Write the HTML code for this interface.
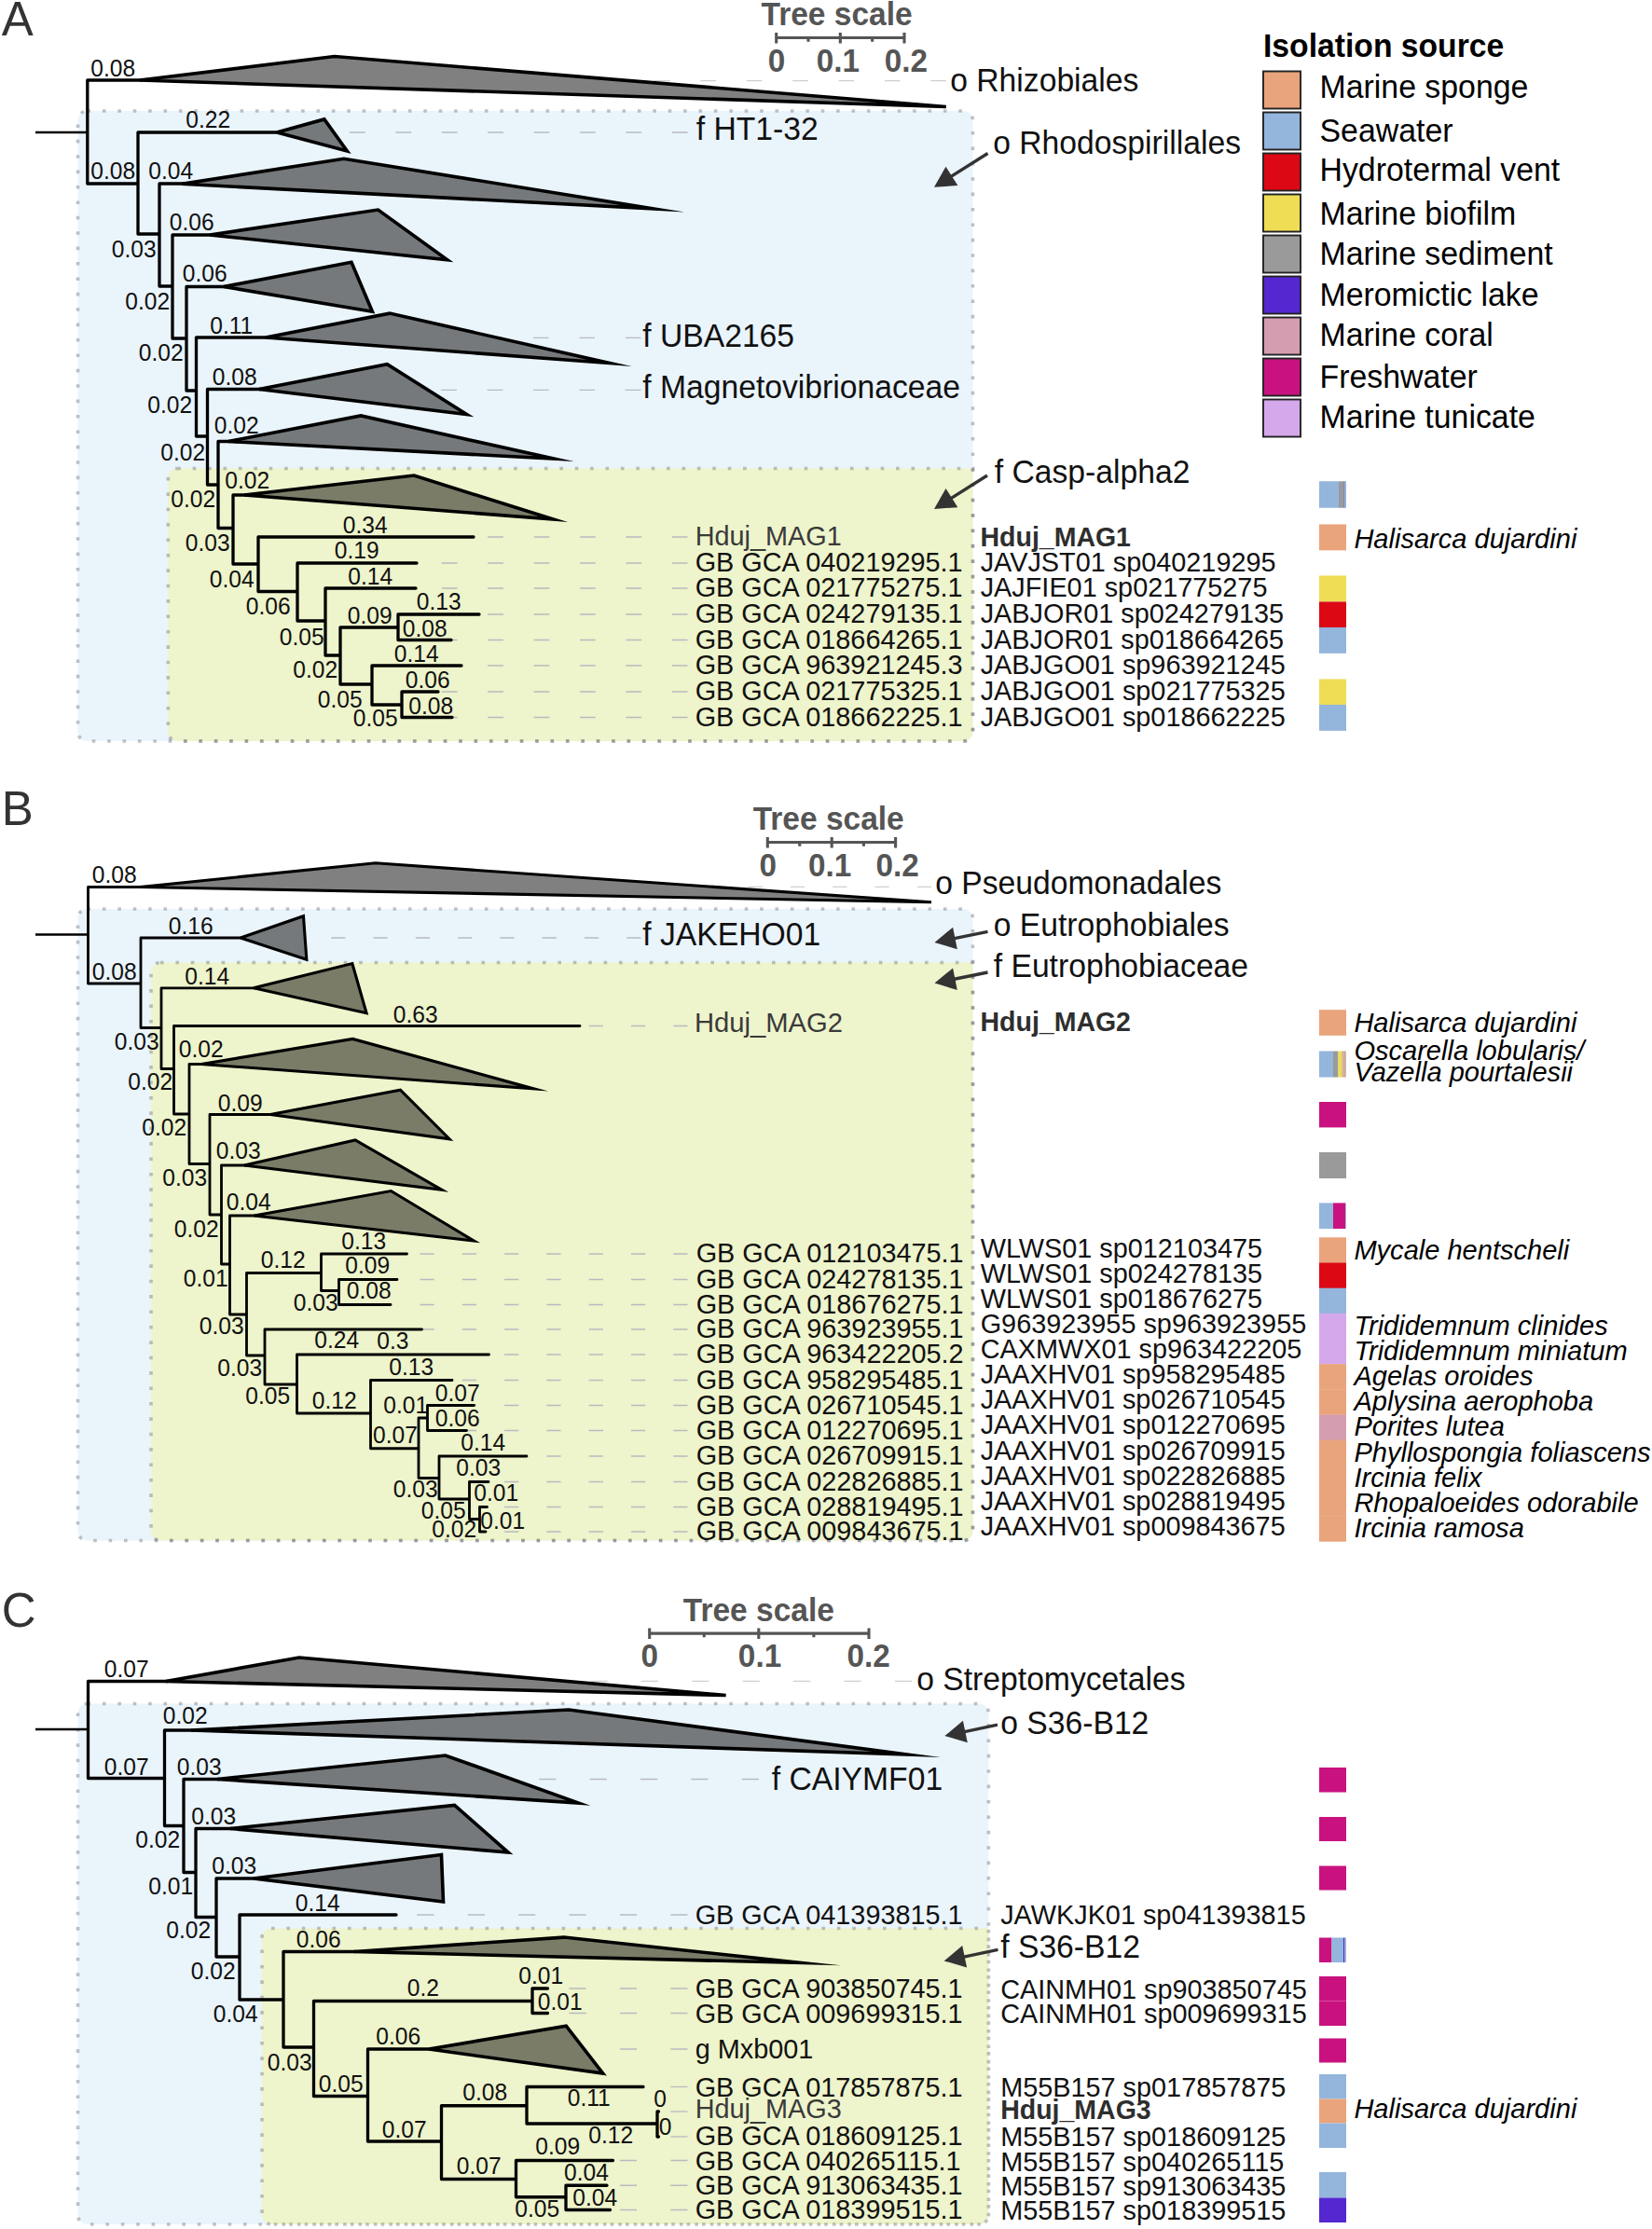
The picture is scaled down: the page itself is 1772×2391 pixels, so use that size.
<!DOCTYPE html>
<html><head><meta charset="utf-8"><title>Phylogenetic trees</title>
<style>html,body{margin:0;padding:0;background:#fff}svg{display:block}text{white-space:pre}</style>
</head><body>
<svg width="1772" height="2391" viewBox="0 0 1772 2391" font-family="'Liberation Sans', Arial, sans-serif">
<text transform="translate(1.7 37.5) scale(1 1.03)" font-size="51" fill="#333">A</text>
<path d="M93.5,119H1033.5A10,10 0 0 1 1043.5,129V785A10,10 0 0 1 1033.5,795H93.5A10,10 0 0 1 83.5,785V129A10,10 0 0 1 93.5,119Z" fill="#eaf4fb"/>
<path d="M190.3,502.5H1043.5V785A10,10 0 0 1 1033.5,795H190.3A10,10 0 0 1 180.3,785V512.5A10,10 0 0 1 190.3,502.5Z" fill="#eef4cb"/>
<path d="M93.5,119H1033.5A10,10 0 0 1 1043.5,129V785A10,10 0 0 1 1033.5,795H93.5A10,10 0 0 1 83.5,785V129A10,10 0 0 1 93.5,119Z" fill="none" stroke="#5c5c66" stroke-opacity="0.37" stroke-width="3.6" stroke-dasharray="3.6 12.8"/>
<path d="M190.3,502.5H1043.5V785A10,10 0 0 1 1033.5,795H190.3A10,10 0 0 1 180.3,785V512.5A10,10 0 0 1 190.3,502.5Z" fill="none" stroke="#5c5c66" stroke-opacity="0.37" stroke-width="3.6" stroke-dasharray="3.6 12.8"/>
<path d="M832.7,40.5H970M832.7,34.9V46.5M901.3,34.9V46.5M970,34.9V46.5M867.0,40.5V44.7M935.65,40.5V44.7" stroke="#555" stroke-width="3.1" fill="none"/>
<text transform="translate(816.6 27) scale(1 1.03)" font-size="33.5" fill="#555" font-weight="bold">Tree scale</text>
<text transform="translate(833 76.6) scale(1 1.03)" font-size="33.3" fill="#555" font-weight="bold" text-anchor="middle">0</text>
<text transform="translate(898.8 76.6) scale(1 1.03)" font-size="33.3" fill="#555" font-weight="bold" text-anchor="middle">0.1</text>
<text transform="translate(971.8 76.6) scale(1 1.03)" font-size="33.3" fill="#555" font-weight="bold" text-anchor="middle">0.2</text>
<path d="M1015,86.6H160" stroke="#cfcfcf" stroke-width="1.3" stroke-dasharray="16.7 32.7" fill="none"/>
<path d="M737.5,142H300" stroke="#b8bbc1" stroke-width="1.3" stroke-dasharray="16.7 32.7" fill="none"/>
<path d="M687.5,362.3H290" stroke="#b8bbc1" stroke-width="1.3" stroke-dasharray="16.7 32.7" fill="none"/>
<path d="M687.5,418.3H285" stroke="#b8bbc1" stroke-width="1.3" stroke-dasharray="16.7 32.7" fill="none"/>
<path d="M737.5,576H508" stroke="#b8bbc1" stroke-width="1.3" stroke-dasharray="16.7 32.7" fill="none"/>
<path d="M737.5,604H447" stroke="#b8bbc1" stroke-width="1.3" stroke-dasharray="16.7 32.7" fill="none"/>
<path d="M737.5,631H446" stroke="#b8bbc1" stroke-width="1.3" stroke-dasharray="16.7 32.7" fill="none"/>
<path d="M737.5,659H514" stroke="#b8bbc1" stroke-width="1.3" stroke-dasharray="16.7 32.7" fill="none"/>
<path d="M737.5,686.5H484" stroke="#b8bbc1" stroke-width="1.3" stroke-dasharray="16.7 32.7" fill="none"/>
<path d="M737.5,714H495" stroke="#b8bbc1" stroke-width="1.3" stroke-dasharray="16.7 32.7" fill="none"/>
<path d="M737.5,742H470" stroke="#b8bbc1" stroke-width="1.3" stroke-dasharray="16.7 32.7" fill="none"/>
<path d="M737.5,769.5H485" stroke="#b8bbc1" stroke-width="1.3" stroke-dasharray="16.7 32.7" fill="none"/>
<path d="M38,142H93" stroke="#000" stroke-width="2.7" fill="none"/>
<path d="M93.8,86V197M93.8,86H152M93.8,197H148M148,142V251M148,142H299M148,251H171M171,197V307M171,197H197M171,307H185M185,252V363M185,252H227M185,363H200M200,307.5V419M200,307.5H242M200,419H210.5M210.5,362V468M210.5,362H287M210.5,468H222.5M222.5,417.5V520M222.5,417.5H280M222.5,520H234M234,473.5V566.5M234,473.5H247M234,566.5H250M250,531V605M250,531H264M250,605H277M277,576V634.5M277,576H508M277,634.5H319M319,604V666M319,604H447M319,666H349M349,631V703M349,631H446M349,703H365M365,673V734M365,673H427M365,734H399M427,659V686.5M427,659H514M427,686.5H484M399,714V756M399,714H495M399,756H431M431,742V769.5M431,742H470M431,769.5H485" fill="none" stroke="#000" stroke-width="3.3" stroke-linecap="round" stroke-linejoin="round"/>
<path d="M150.00,86.00 L358.76,60.57 L1014.80,114.50 L150.00,86.00" fill="#808080" stroke="#000" stroke-width="3.5999999999999996" stroke-linejoin="miter" stroke-linecap="butt" stroke-miterlimit="4"/>
<path d="M297.00,142.00 L347.83,127.92 L372.31,162.05 L297.00,142.00" fill="#75797b" stroke="#000" stroke-width="3.5999999999999996" stroke-linejoin="miter" stroke-linecap="butt" stroke-miterlimit="60"/>
<path d="M195.00,197.30 L368.82,170.28 L701.05,223.91 L195.00,197.30" fill="#75797b" stroke="#000" stroke-width="3.5999999999999996" stroke-linejoin="miter" stroke-linecap="butt" stroke-miterlimit="60"/>
<path d="M225.00,252.00 L405.54,225.05 L479.85,278.82 L225.00,252.00" fill="#75797b" stroke="#000" stroke-width="3.5999999999999996" stroke-linejoin="miter" stroke-linecap="butt" stroke-miterlimit="60"/>
<path d="M240.00,307.50 L376.96,281.29 L399.41,334.26 L240.00,307.50" fill="#75797b" stroke="#000" stroke-width="3.5999999999999996" stroke-linejoin="miter" stroke-linecap="butt" stroke-miterlimit="60"/>
<path d="M285.00,362.00 L417.91,336.11 L653.63,389.43 L285.00,362.00" fill="#75797b" stroke="#000" stroke-width="3.5999999999999996" stroke-linejoin="miter" stroke-linecap="butt" stroke-miterlimit="60"/>
<path d="M278.00,417.50 L415.27,390.76 L500.58,444.55 L278.00,417.50" fill="#75797b" stroke="#000" stroke-width="3.5999999999999996" stroke-linejoin="miter" stroke-linecap="butt" stroke-miterlimit="60"/>
<path d="M245.00,473.50 L387.04,445.95 L594.28,492.08 L245.00,473.50" fill="#75797b" stroke="#000" stroke-width="3.5999999999999996" stroke-linejoin="miter" stroke-linecap="butt" stroke-miterlimit="60"/>
<path d="M262.00,531.00 L444.15,510.07 L593.47,557.08 L262.00,531.00" fill="#7a7c68" stroke="#000" stroke-width="3.5999999999999996" stroke-linejoin="miter" stroke-linecap="butt" stroke-miterlimit="60"/>
<text transform="translate(97.2 81.5) scale(1 1.03)" font-size="24.6" fill="#111">0.08</text>
<text transform="translate(199.2 137) scale(1 1.03)" font-size="24.6" fill="#111">0.22</text>
<text transform="translate(97.2 192) scale(1 1.03)" font-size="24.6" fill="#111">0.08</text>
<text transform="translate(159.2 192) scale(1 1.03)" font-size="24.6" fill="#111">0.04</text>
<text transform="translate(181.7 247) scale(1 1.03)" font-size="24.6" fill="#111">0.06</text>
<text transform="translate(119.7 276) scale(1 1.03)" font-size="24.6" fill="#111">0.03</text>
<text transform="translate(195.7 302) scale(1 1.03)" font-size="24.6" fill="#111">0.06</text>
<text transform="translate(134.2 332) scale(1 1.03)" font-size="24.6" fill="#111">0.02</text>
<text transform="translate(225.2 357.5) scale(1 1.03)" font-size="24.6" fill="#111">0.11</text>
<text transform="translate(148.7 387) scale(1 1.03)" font-size="24.6" fill="#111">0.02</text>
<text transform="translate(227.7 412.5) scale(1 1.03)" font-size="24.6" fill="#111">0.08</text>
<text transform="translate(158.2 443) scale(1 1.03)" font-size="24.6" fill="#111">0.02</text>
<text transform="translate(229.7 465) scale(1 1.03)" font-size="24.6" fill="#111">0.02</text>
<text transform="translate(172.2 494) scale(1 1.03)" font-size="24.6" fill="#111">0.02</text>
<text transform="translate(241.2 523.5) scale(1 1.03)" font-size="24.6" fill="#111">0.02</text>
<text transform="translate(183.2 544) scale(1 1.03)" font-size="24.6" fill="#111">0.02</text>
<text transform="translate(198.7 591) scale(1 1.03)" font-size="24.6" fill="#111">0.03</text>
<text transform="translate(367.7 571.5) scale(1 1.03)" font-size="24.6" fill="#111">0.34</text>
<text transform="translate(224.7 629.5) scale(1 1.03)" font-size="24.6" fill="#111">0.04</text>
<text transform="translate(358.7 599) scale(1 1.03)" font-size="24.6" fill="#111">0.19</text>
<text transform="translate(263.7 658.5) scale(1 1.03)" font-size="24.6" fill="#111">0.06</text>
<text transform="translate(373.2 627) scale(1 1.03)" font-size="24.6" fill="#111">0.14</text>
<text transform="translate(299.7 692) scale(1 1.03)" font-size="24.6" fill="#111">0.05</text>
<text transform="translate(372.7 668.5) scale(1 1.03)" font-size="24.6" fill="#111">0.09</text>
<text transform="translate(446.7 654) scale(1 1.03)" font-size="24.6" fill="#111">0.13</text>
<text transform="translate(431.7 682.5) scale(1 1.03)" font-size="24.6" fill="#111">0.08</text>
<text transform="translate(314.2 727) scale(1 1.03)" font-size="24.6" fill="#111">0.02</text>
<text transform="translate(422.7 709.5) scale(1 1.03)" font-size="24.6" fill="#111">0.14</text>
<text transform="translate(340.7 758.5) scale(1 1.03)" font-size="24.6" fill="#111">0.05</text>
<text transform="translate(434.7 737.5) scale(1 1.03)" font-size="24.6" fill="#111">0.06</text>
<text transform="translate(378.7 779) scale(1 1.03)" font-size="24.6" fill="#111">0.05</text>
<text transform="translate(438.2 766) scale(1 1.03)" font-size="24.6" fill="#111">0.08</text>
<text transform="translate(1019.2 97.5) scale(1 1.03)" font-size="33.7" fill="#111">o Rhizobiales</text>
<text transform="translate(746.7 150) scale(1 1.03)" font-size="33.7" fill="#111">f HT1-32</text>
<text transform="translate(1065.2 164.5) scale(1 1.03)" font-size="33.7" fill="#111">o Rhodospirillales</text>
<text transform="translate(689.2 371.5) scale(1 1.03)" font-size="33.7" fill="#111">f UBA2165</text>
<text transform="translate(689.2 426.5) scale(1 1.03)" font-size="33.7" fill="#111">f Magnetovibrionaceae</text>
<text transform="translate(1066.7 517.5) scale(1 1.03)" font-size="33.7" fill="#111">f Casp-alpha2</text>
<path d="M1059.5,164.5L1019.3,189.9" stroke="#333" stroke-width="3.4" fill="none"/>
<polygon points="1002,200.75 1014.5,178.7 1027.3,199.0" fill="#333"/>
<path d="M1059,510L1019.2,535.1" stroke="#333" stroke-width="3.4" fill="none"/>
<polygon points="1002,546 1014.5,523.9 1027.3,544.2" fill="#333"/>
<text transform="translate(745.7 585) scale(1 1.03)" font-size="28.85" fill="#3a3a3a">Hduj_MAG1</text>
<text transform="translate(1051.5 586.2) scale(1 1.03)" font-size="28.5" fill="#2e2e2e" font-weight="bold">Hduj_MAG1</text>
<text transform="translate(745.7 612.5) scale(1 1.03)" font-size="28.85" fill="#111">GB GCA 040219295.1</text>
<text transform="translate(1051.7 612.5) scale(1 1.03)" font-size="28.85" fill="#111">JAVJST01 sp040219295</text>
<text transform="translate(745.7 640) scale(1 1.03)" font-size="28.85" fill="#111">GB GCA 021775275.1</text>
<text transform="translate(1051.7 640) scale(1 1.03)" font-size="28.85" fill="#111">JAJFIE01 sp021775275</text>
<text transform="translate(745.7 668) scale(1 1.03)" font-size="28.85" fill="#111">GB GCA 024279135.1</text>
<text transform="translate(1051.7 668) scale(1 1.03)" font-size="28.85" fill="#111">JABJOR01 sp024279135</text>
<text transform="translate(745.7 695.5) scale(1 1.03)" font-size="28.85" fill="#111">GB GCA 018664265.1</text>
<text transform="translate(1051.7 695.5) scale(1 1.03)" font-size="28.85" fill="#111">JABJOR01 sp018664265</text>
<text transform="translate(745.7 723) scale(1 1.03)" font-size="28.85" fill="#111">GB GCA 963921245.3</text>
<text transform="translate(1051.7 723) scale(1 1.03)" font-size="28.85" fill="#111">JABJGO01 sp963921245</text>
<text transform="translate(745.7 751) scale(1 1.03)" font-size="28.85" fill="#111">GB GCA 021775325.1</text>
<text transform="translate(1051.7 751) scale(1 1.03)" font-size="28.85" fill="#111">JABJGO01 sp021775325</text>
<text transform="translate(745.7 778.5) scale(1 1.03)" font-size="28.85" fill="#111">GB GCA 018662225.1</text>
<text transform="translate(1051.7 778.5) scale(1 1.03)" font-size="28.85" fill="#111">JABJGO01 sp018662225</text>
<rect x="1415.00" y="516.25" width="21.00" height="28.50" fill="#94b5dc"/>
<rect x="1436.00" y="516.25" width="5.50" height="28.50" fill="#9a9a9a"/>
<rect x="1441.50" y="516.25" width="1.00" height="28.50" fill="#3a3ab0"/>
<rect x="1442.50" y="516.25" width="1.50" height="28.50" fill="#94b5dc"/>
<rect x="1415.00" y="562.45" width="29.00" height="27.90" fill="#e9a47b"/>
<rect x="1415.00" y="617.45" width="29.00" height="27.90" fill="#eedd55"/>
<rect x="1415.00" y="645.45" width="29.00" height="27.90" fill="#dc0814"/>
<rect x="1415.00" y="672.95" width="29.00" height="27.90" fill="#94b5dc"/>
<rect x="1415.00" y="728.45" width="29.00" height="27.90" fill="#eedd55"/>
<rect x="1415.00" y="755.95" width="29.00" height="27.90" fill="#94b5dc"/>
<text x="1452.4" y="588" font-size="29.05" fill="#000" font-style="italic">Halisarca dujardini</text>
<text transform="translate(1.7 884.5) scale(1 1.03)" font-size="51" fill="#333">B</text>
<path d="M93.5,975H1033.5A10,10 0 0 1 1043.5,985V1642.5A10,10 0 0 1 1033.5,1652.5H93.5A10,10 0 0 1 83.5,1642.5V985A10,10 0 0 1 93.5,975Z" fill="#eaf4fb"/>
<path d="M172,1032.5H1043.5V1642.5A10,10 0 0 1 1033.5,1652.5H172A10,10 0 0 1 162,1642.5V1042.5A10,10 0 0 1 172,1032.5Z" fill="#eef4cb"/>
<path d="M93.5,975H1033.5A10,10 0 0 1 1043.5,985V1642.5A10,10 0 0 1 1033.5,1652.5H93.5A10,10 0 0 1 83.5,1642.5V985A10,10 0 0 1 93.5,975Z" fill="none" stroke="#5c5c66" stroke-opacity="0.37" stroke-width="3.6" stroke-dasharray="3.6 12.8"/>
<path d="M172,1032.5H1043.5V1642.5A10,10 0 0 1 1033.5,1652.5H172A10,10 0 0 1 162,1642.5V1042.5A10,10 0 0 1 172,1032.5Z" fill="none" stroke="#5c5c66" stroke-opacity="0.37" stroke-width="3.6" stroke-dasharray="3.6 12.8"/>
<path d="M823.3,903.5H960.6M823.3,897.9V909.5M892.2,897.9V909.5M960.6,897.9V909.5M857.75,903.5V907.7M926.4000000000001,903.5V907.7" stroke="#555" stroke-width="3.1" fill="none"/>
<text transform="translate(807.7 890) scale(1 1.03)" font-size="33.5" fill="#555" font-weight="bold">Tree scale</text>
<text transform="translate(823.8 939.6) scale(1 1.03)" font-size="33.3" fill="#555" font-weight="bold" text-anchor="middle">0</text>
<text transform="translate(890.1 939.6) scale(1 1.03)" font-size="33.3" fill="#555" font-weight="bold" text-anchor="middle">0.1</text>
<text transform="translate(962.7 939.6) scale(1 1.03)" font-size="33.3" fill="#555" font-weight="bold" text-anchor="middle">0.2</text>
<path d="M999,951.3H160" stroke="#cfcfcf" stroke-width="1.3" stroke-dasharray="15.2 30.099999999999998" fill="none"/>
<path d="M687.5,1006H262" stroke="#b8bbc1" stroke-width="1.3" stroke-dasharray="15.2 30.099999999999998" fill="none"/>
<path d="M737.5,1100.5H622.5" stroke="#b8bbc1" stroke-width="1.3" stroke-dasharray="15.2 30.099999999999998" fill="none"/>
<path d="M737.5,1345H436.5" stroke="#b8bbc1" stroke-width="1.3" stroke-dasharray="15.2 30.099999999999998" fill="none"/>
<path d="M737.5,1372.5H426" stroke="#b8bbc1" stroke-width="1.3" stroke-dasharray="15.2 30.099999999999998" fill="none"/>
<path d="M737.5,1399.5H419" stroke="#b8bbc1" stroke-width="1.3" stroke-dasharray="15.2 30.099999999999998" fill="none"/>
<path d="M737.5,1426H452.5" stroke="#b8bbc1" stroke-width="1.3" stroke-dasharray="15.2 30.099999999999998" fill="none"/>
<path d="M737.5,1453H524.5" stroke="#b8bbc1" stroke-width="1.3" stroke-dasharray="15.2 30.099999999999998" fill="none"/>
<path d="M737.5,1480.5H485" stroke="#b8bbc1" stroke-width="1.3" stroke-dasharray="15.2 30.099999999999998" fill="none"/>
<path d="M737.5,1507.5H508.5" stroke="#b8bbc1" stroke-width="1.3" stroke-dasharray="15.2 30.099999999999998" fill="none"/>
<path d="M737.5,1534.5H500.5" stroke="#b8bbc1" stroke-width="1.3" stroke-dasharray="15.2 30.099999999999998" fill="none"/>
<path d="M737.5,1562H565" stroke="#b8bbc1" stroke-width="1.3" stroke-dasharray="15.2 30.099999999999998" fill="none"/>
<path d="M737.5,1589.5H524" stroke="#b8bbc1" stroke-width="1.3" stroke-dasharray="15.2 30.099999999999998" fill="none"/>
<path d="M737.5,1616.5H522.5" stroke="#b8bbc1" stroke-width="1.3" stroke-dasharray="15.2 30.099999999999998" fill="none"/>
<path d="M737.5,1643H521" stroke="#b8bbc1" stroke-width="1.3" stroke-dasharray="15.2 30.099999999999998" fill="none"/>
<path d="M38,1002.5H94" stroke="#000" stroke-width="2.5" fill="none"/>
<path d="M94.5,951.5V1055M94.5,951.5H152M94.5,1055H151M151,1006V1102.5M151,1006H260M151,1102.5H173M173,1059.8V1146.5M173,1059.8H274M173,1146.5H186.5M186.5,1100.5V1195M186.5,1100.5H622M186.5,1195H203M203,1141.5V1248.5M203,1141.5H218M203,1248.5H225M225,1195.5V1303M225,1195.5H292M225,1303H237.5M237.5,1250V1356M237.5,1250H264M237.5,1356H246.5M246.5,1304V1410M246.5,1304H274M246.5,1410H264.5M264.5,1365.5V1454M264.5,1365.5H344.5M264.5,1454H284M344.5,1345V1384.5M344.5,1345H436.5M344.5,1384.5H363.5M363.5,1372.5V1399.5M363.5,1372.5H426M363.5,1399.5H419M284,1426V1485M284,1426H452.5M284,1485H318.5M318.5,1453V1516M318.5,1453H524.5M318.5,1516H397.5M397.5,1480.5V1553.75M397.5,1480.5H485M397.5,1553.75H449M449,1521V1585.5M449,1521H458.5M449,1585.5H471M458.5,1507.5V1534.5M458.5,1507.5H508.5M458.5,1534.5H500.5M471,1562V1608M471,1562H565M471,1608H503.5M503.5,1589.5V1629.5M503.5,1589.5H524M503.5,1629.5H514.5M514.5,1616.5V1643M514.5,1616.5H522.5M514.5,1643H521" fill="none" stroke="#000" stroke-width="2.8" stroke-linecap="round" stroke-linejoin="round"/>
<path d="M150.00,951.50 L402.75,925.79 L999.00,967.80 L150.00,951.50" fill="#808080" stroke="#000" stroke-width="3.0999999999999996" stroke-linejoin="miter" stroke-linecap="butt" stroke-miterlimit="4"/>
<path d="M258.00,1006.00 L325.46,982.69 L328.85,1029.30 L258.00,1006.00" fill="#75797b" stroke="#000" stroke-width="3.0999999999999996" stroke-linejoin="miter" stroke-linecap="butt" stroke-miterlimit="60"/>
<path d="M272.00,1059.80 L377.88,1033.51 L393.07,1086.66 L272.00,1059.80" fill="#7a7c68" stroke="#000" stroke-width="3.0999999999999996" stroke-linejoin="miter" stroke-linecap="butt" stroke-miterlimit="60"/>
<path d="M216.00,1141.50 L378.31,1114.44 L572.43,1167.90 L216.00,1141.50" fill="#7a7c68" stroke="#000" stroke-width="3.0999999999999996" stroke-linejoin="miter" stroke-linecap="butt" stroke-miterlimit="60"/>
<path d="M290.00,1195.50 L429.42,1169.27 L482.02,1221.77 L290.00,1195.50" fill="#7a7c68" stroke="#000" stroke-width="3.0999999999999996" stroke-linejoin="miter" stroke-linecap="butt" stroke-miterlimit="60"/>
<path d="M262.00,1250.00 L381.07,1222.89 L473.90,1276.33 L262.00,1250.00" fill="#7a7c68" stroke="#000" stroke-width="3.0999999999999996" stroke-linejoin="miter" stroke-linecap="butt" stroke-miterlimit="60"/>
<path d="M272.50,1304.00 L419.40,1277.53 L508.19,1330.96 L272.50,1304.00" fill="#7a7c68" stroke="#000" stroke-width="3.0999999999999996" stroke-linejoin="miter" stroke-linecap="butt" stroke-miterlimit="60"/>
<text transform="translate(98.7 947) scale(1 1.03)" font-size="24.6" fill="#111">0.08</text>
<text transform="translate(180.7 1001.5) scale(1 1.03)" font-size="24.6" fill="#111">0.16</text>
<text transform="translate(98.7 1050.5) scale(1 1.03)" font-size="24.6" fill="#111">0.08</text>
<text transform="translate(198.2 1055.5) scale(1 1.03)" font-size="24.6" fill="#111">0.14</text>
<text transform="translate(421.7 1096.5) scale(1 1.03)" font-size="24.6" fill="#111">0.63</text>
<text transform="translate(122.7 1125.5) scale(1 1.03)" font-size="24.6" fill="#111">0.03</text>
<text transform="translate(191.7 1134) scale(1 1.03)" font-size="24.6" fill="#111">0.02</text>
<text transform="translate(137.2 1169) scale(1 1.03)" font-size="24.6" fill="#111">0.02</text>
<text transform="translate(233.7 1191.5) scale(1 1.03)" font-size="24.6" fill="#111">0.09</text>
<text transform="translate(152.2 1217.5) scale(1 1.03)" font-size="24.6" fill="#111">0.02</text>
<text transform="translate(231.7 1243) scale(1 1.03)" font-size="24.6" fill="#111">0.03</text>
<text transform="translate(174.2 1271.5) scale(1 1.03)" font-size="24.6" fill="#111">0.03</text>
<text transform="translate(242.7 1298) scale(1 1.03)" font-size="24.6" fill="#111">0.04</text>
<text transform="translate(186.7 1326.5) scale(1 1.03)" font-size="24.6" fill="#111">0.02</text>
<text transform="translate(366.2 1340) scale(1 1.03)" font-size="24.6" fill="#111">0.13</text>
<text transform="translate(196.7 1380) scale(1 1.03)" font-size="24.6" fill="#111">0.01</text>
<text transform="translate(279.7 1359.5) scale(1 1.03)" font-size="24.6" fill="#111">0.12</text>
<text transform="translate(370.2 1366) scale(1 1.03)" font-size="24.6" fill="#111">0.09</text>
<text transform="translate(371.7 1393) scale(1 1.03)" font-size="24.6" fill="#111">0.08</text>
<text transform="translate(314.7 1406) scale(1 1.03)" font-size="24.6" fill="#111">0.03</text>
<text transform="translate(213.7 1431) scale(1 1.03)" font-size="24.6" fill="#111">0.03</text>
<text transform="translate(337.2 1446) scale(1 1.03)" font-size="24.6" fill="#111">0.24</text>
<text transform="translate(404.2 1447) scale(1 1.03)" font-size="24.6" fill="#111">0.3</text>
<text transform="translate(233.2 1476) scale(1 1.03)" font-size="24.6" fill="#111">0.03</text>
<text transform="translate(417.2 1474.5) scale(1 1.03)" font-size="24.6" fill="#111">0.13</text>
<text transform="translate(263.2 1506) scale(1 1.03)" font-size="24.6" fill="#111">0.05</text>
<text transform="translate(334.7 1511) scale(1 1.03)" font-size="24.6" fill="#111">0.12</text>
<text transform="translate(411.2 1516) scale(1 1.03)" font-size="24.6" fill="#111">0.01</text>
<text transform="translate(466.7 1502.5) scale(1 1.03)" font-size="24.6" fill="#111">0.07</text>
<text transform="translate(466.7 1530) scale(1 1.03)" font-size="24.6" fill="#111">0.06</text>
<text transform="translate(399.95 1548) scale(1 1.03)" font-size="24.6" fill="#111">0.07</text>
<text transform="translate(494.2 1556) scale(1 1.03)" font-size="24.6" fill="#111">0.14</text>
<text transform="translate(489.2 1582.5) scale(1 1.03)" font-size="24.6" fill="#111">0.03</text>
<text transform="translate(421.7 1606) scale(1 1.03)" font-size="24.6" fill="#111">0.03</text>
<text transform="translate(508.2 1610) scale(1 1.03)" font-size="24.6" fill="#111">0.01</text>
<text transform="translate(451.7 1629) scale(1 1.03)" font-size="24.6" fill="#111">0.05</text>
<text transform="translate(515.2 1640) scale(1 1.03)" font-size="24.6" fill="#111">0.01</text>
<text transform="translate(463.2 1649) scale(1 1.03)" font-size="24.6" fill="#111">0.02</text>
<text transform="translate(1003.2 959) scale(1 1.03)" font-size="33.7" fill="#111">o Pseudomonadales</text>
<text transform="translate(689.2 1013.5) scale(1 1.03)" font-size="33.7" fill="#111">f JAKEHO01</text>
<text transform="translate(1065.7 1003.5) scale(1 1.03)" font-size="33.7" fill="#111">o Eutrophobiales</text>
<text transform="translate(1065.7 1047.5) scale(1 1.03)" font-size="33.7" fill="#111">f Eutrophobiaceae</text>
<path d="M1059.5,999.3L1022.5,1006.8" stroke="#333" stroke-width="3.4" fill="none"/>
<polygon points="1002.5,1010.9 1022.1,994.7 1026.8,1018.2" fill="#333"/>
<path d="M1059.5,1043L1022.5,1050.5" stroke="#333" stroke-width="3.4" fill="none"/>
<polygon points="1002.5,1054.6 1022.1,1038.4 1026.8,1061.9" fill="#333"/>
<text transform="translate(745.0 1106.5) scale(1 1.03)" font-size="29.2" fill="#3a3a3a">Hduj_MAG2</text>
<text transform="translate(1051.5 1106.2) scale(1 1.03)" font-size="28.5" fill="#2e2e2e" font-weight="bold">Hduj_MAG2</text>
<text transform="translate(746.7 1354) scale(1 1.03)" font-size="28.85" fill="#111">GB GCA 012103475.1</text>
<text transform="translate(1051.7 1348.5) scale(1 1.03)" font-size="28.85" fill="#111">WLWS01 sp012103475</text>
<rect x="1415.00" y="1327.34" width="29.00" height="27.50" fill="#e9a47b"/>
<text x="1452.4" y="1350.5" font-size="29.05" fill="#000" font-style="italic">Mycale hentscheli</text>
<text transform="translate(746.7 1381.5) scale(1 1.03)" font-size="28.85" fill="#111">GB GCA 024278135.1</text>
<text transform="translate(1051.7 1376.0) scale(1 1.03)" font-size="28.85" fill="#111">WLWS01 sp024278135</text>
<rect x="1415.00" y="1354.51" width="29.00" height="27.50" fill="#dc0814"/>
<text transform="translate(746.7 1408.5) scale(1 1.03)" font-size="28.85" fill="#111">GB GCA 018676275.1</text>
<text transform="translate(1051.7 1403.0) scale(1 1.03)" font-size="28.85" fill="#111">WLWS01 sp018676275</text>
<rect x="1415.00" y="1381.67" width="29.00" height="27.50" fill="#94b5dc"/>
<text transform="translate(746.7 1435) scale(1 1.03)" font-size="28.85" fill="#111">GB GCA 963923955.1</text>
<text transform="translate(1051.7 1429.5) scale(1 1.03)" font-size="28.85" fill="#111">G963923955 sp963923955</text>
<rect x="1415.00" y="1408.85" width="29.00" height="27.50" fill="#d4a8ea"/>
<text x="1452.4" y="1431.5" font-size="29.05" fill="#000" font-style="italic">Trididemnum clinides</text>
<text transform="translate(746.7 1462) scale(1 1.03)" font-size="28.85" fill="#111">GB GCA 963422205.2</text>
<text transform="translate(1051.7 1456.5) scale(1 1.03)" font-size="28.85" fill="#111">CAXMWX01 sp963422205</text>
<rect x="1415.00" y="1436.02" width="29.00" height="27.50" fill="#d4a8ea"/>
<text x="1452.4" y="1458.5" font-size="29.05" fill="#000" font-style="italic">Trididemnum miniatum</text>
<text transform="translate(746.7 1489.5) scale(1 1.03)" font-size="28.85" fill="#111">GB GCA 958295485.1</text>
<text transform="translate(1051.7 1484.0) scale(1 1.03)" font-size="28.85" fill="#111">JAAXHV01 sp958295485</text>
<rect x="1415.00" y="1463.18" width="29.00" height="27.50" fill="#e9a47b"/>
<text x="1452.4" y="1486.0" font-size="29.05" fill="#000" font-style="italic">Agelas oroides</text>
<text transform="translate(746.7 1516.5) scale(1 1.03)" font-size="28.85" fill="#111">GB GCA 026710545.1</text>
<text transform="translate(1051.7 1511.0) scale(1 1.03)" font-size="28.85" fill="#111">JAAXHV01 sp026710545</text>
<rect x="1415.00" y="1490.36" width="29.00" height="27.50" fill="#e9a47b"/>
<text x="1452.4" y="1513.0" font-size="29.05" fill="#000" font-style="italic">Aplysina aerophoba</text>
<text transform="translate(746.7 1543.5) scale(1 1.03)" font-size="28.85" fill="#111">GB GCA 012270695.1</text>
<text transform="translate(1051.7 1538.0) scale(1 1.03)" font-size="28.85" fill="#111">JAAXHV01 sp012270695</text>
<rect x="1415.00" y="1517.53" width="29.00" height="27.50" fill="#d49eb0"/>
<text x="1452.4" y="1540.0" font-size="29.05" fill="#000" font-style="italic">Porites lutea</text>
<text transform="translate(746.7 1571) scale(1 1.03)" font-size="28.85" fill="#111">GB GCA 026709915.1</text>
<text transform="translate(1051.7 1565.5) scale(1 1.03)" font-size="28.85" fill="#111">JAAXHV01 sp026709915</text>
<rect x="1415.00" y="1544.69" width="29.00" height="27.50" fill="#e9a47b"/>
<text x="1452.4" y="1567.5" font-size="29.05" fill="#000" font-style="italic">Phyllospongia foliascens</text>
<text transform="translate(746.7 1598.5) scale(1 1.03)" font-size="28.85" fill="#111">GB GCA 022826885.1</text>
<text transform="translate(1051.7 1593.0) scale(1 1.03)" font-size="28.85" fill="#111">JAAXHV01 sp022826885</text>
<rect x="1415.00" y="1571.87" width="29.00" height="27.50" fill="#e9a47b"/>
<text x="1452.4" y="1595.0" font-size="29.05" fill="#000" font-style="italic">Ircinia felix</text>
<text transform="translate(746.7 1625.5) scale(1 1.03)" font-size="28.85" fill="#111">GB GCA 028819495.1</text>
<text transform="translate(1051.7 1620.0) scale(1 1.03)" font-size="28.85" fill="#111">JAAXHV01 sp028819495</text>
<rect x="1415.00" y="1599.04" width="29.00" height="27.50" fill="#e9a47b"/>
<text x="1452.4" y="1622.0" font-size="29.05" fill="#000" font-style="italic">Rhopaloeides odorabile</text>
<text transform="translate(746.7 1652) scale(1 1.03)" font-size="28.85" fill="#111">GB GCA 009843675.1</text>
<text transform="translate(1051.7 1646.5) scale(1 1.03)" font-size="28.85" fill="#111">JAAXHV01 sp009843675</text>
<rect x="1415.00" y="1626.20" width="29.00" height="27.50" fill="#e9a47b"/>
<text x="1452.4" y="1648.5" font-size="29.05" fill="#000" font-style="italic">Ircinia ramosa</text>
<rect x="1415.00" y="1083.20" width="29.00" height="27.60" fill="#e9a47b"/>
<rect x="1415.00" y="1127.50" width="15.00" height="28.00" fill="#94b5dc"/>
<rect x="1430.00" y="1127.50" width="5.50" height="28.00" fill="#9a9a9a"/>
<rect x="1435.50" y="1127.50" width="4.00" height="28.00" fill="#eedd55"/>
<rect x="1439.50" y="1127.50" width="1.00" height="28.00" fill="#9a9a9a"/>
<rect x="1440.50" y="1127.50" width="2.70" height="28.00" fill="#e9a47b"/>
<rect x="1443.20" y="1127.50" width="0.80" height="28.00" fill="#94b5dc"/>
<rect x="1415.00" y="1182.00" width="29.00" height="27.40" fill="#c9127f"/>
<rect x="1415.00" y="1236.00" width="29.00" height="28.00" fill="#9a9a9a"/>
<rect x="1415.00" y="1290.40" width="15.00" height="27.60" fill="#94b5dc"/>
<rect x="1430.00" y="1290.40" width="13.30" height="27.60" fill="#c9127f"/>
<rect x="1443.30" y="1290.40" width="0.70" height="27.60" fill="#94b5dc"/>
<text x="1452.4" y="1106.5" font-size="29.05" fill="#000" font-style="italic">Halisarca dujardini</text>
<text x="1452.4" y="1137.3" font-size="29.05" fill="#000" font-style="italic">Oscarella lobularis/</text>
<text x="1452.4" y="1159.8" font-size="29.05" fill="#000" font-style="italic">Vazella pourtalesii</text>
<text transform="translate(1.7 1744.5) scale(1 1.03)" font-size="51" fill="#333">C</text>
<path d="M93.5,1827.5H1050.4A10,10 0 0 1 1060.4,1837.5V2376A10,10 0 0 1 1050.4,2386H93.5A10,10 0 0 1 83.5,2376V1837.5A10,10 0 0 1 93.5,1827.5Z" fill="#eaf4fb"/>
<path d="M291,2068.5H1060.4V2376A10,10 0 0 1 1050.4,2386H291A10,10 0 0 1 281,2376V2078.5A10,10 0 0 1 291,2068.5Z" fill="#eef4cb"/>
<path d="M93.5,1827.5H1050.4A10,10 0 0 1 1060.4,1837.5V2376A10,10 0 0 1 1050.4,2386H93.5A10,10 0 0 1 83.5,2376V1837.5A10,10 0 0 1 93.5,1827.5Z" fill="none" stroke="#5c5c66" stroke-opacity="0.37" stroke-width="3.6" stroke-dasharray="3.6 12.8"/>
<path d="M291,2068.5H1060.4V2376A10,10 0 0 1 1050.4,2386H291A10,10 0 0 1 281,2376V2078.5A10,10 0 0 1 291,2068.5Z" fill="none" stroke="#5c5c66" stroke-opacity="0.37" stroke-width="3.6" stroke-dasharray="3.6 12.8"/>
<path d="M696.7,1752.1H932M696.7,1746.5V1758.1M813.8,1746.5V1758.1M932,1746.5V1758.1M755.25,1752.1V1756.3M872.9,1752.1V1756.3" stroke="#555" stroke-width="3.1" fill="none"/>
<text transform="translate(732.8 1738.6) scale(1 1.03)" font-size="33.5" fill="#555" font-weight="bold">Tree scale</text>
<text transform="translate(696.7 1788.1999999999998) scale(1 1.03)" font-size="33.3" fill="#555" font-weight="bold" text-anchor="middle">0</text>
<text transform="translate(815 1788.1999999999998) scale(1 1.03)" font-size="33.3" fill="#555" font-weight="bold" text-anchor="middle">0.1</text>
<text transform="translate(931.7 1788.1999999999998) scale(1 1.03)" font-size="33.3" fill="#555" font-weight="bold" text-anchor="middle">0.2</text>
<path d="M978,1803.3H185" stroke="#cfcfcf" stroke-width="1.3" stroke-dasharray="18.2 36.2" fill="none"/>
<path d="M814,1908.5H240" stroke="#b8bbc1" stroke-width="1.3" stroke-dasharray="18.2 36.2" fill="none"/>
<path d="M737.5,2054H425" stroke="#b8bbc1" stroke-width="1.3" stroke-dasharray="18.2 36.2" fill="none"/>
<path d="M737.5,2133H587.5" stroke="#b8bbc1" stroke-width="1.3" stroke-dasharray="18.2 36.2" fill="none"/>
<path d="M737.5,2159.5H587.5" stroke="#b8bbc1" stroke-width="1.3" stroke-dasharray="18.2 36.2" fill="none"/>
<path d="M737.5,2198H600" stroke="#b8bbc1" stroke-width="1.3" stroke-dasharray="18.2 36.2" fill="none"/>
<path d="M737.5,2238.5H690" stroke="#b8bbc1" stroke-width="1.3" stroke-dasharray="18.2 36.2" fill="none"/>
<path d="M737.5,2265H708" stroke="#b8bbc1" stroke-width="1.3" stroke-dasharray="18.2 36.2" fill="none"/>
<path d="M737.5,2292H708" stroke="#b8bbc1" stroke-width="1.3" stroke-dasharray="18.2 36.2" fill="none"/>
<path d="M737.5,2317.5H657.5" stroke="#b8bbc1" stroke-width="1.3" stroke-dasharray="18.2 36.2" fill="none"/>
<path d="M737.5,2344.25H651" stroke="#b8bbc1" stroke-width="1.3" stroke-dasharray="18.2 36.2" fill="none"/>
<path d="M737.5,2370.5H654.5" stroke="#b8bbc1" stroke-width="1.3" stroke-dasharray="18.2 36.2" fill="none"/>
<path d="M38,1855H94" stroke="#000" stroke-width="2.7" fill="none"/>
<path d="M94.5,1803.5V1907.5M94.5,1803.5H180M94.5,1907.5H176.5M176.5,1856V1958.5M176.5,1856H207M176.5,1958.5H197M197,1908.5V2008.5M197,1908.5H235M197,2008.5H210M210,1961.5V2056.5M210,1961.5H249M210,2056.5H232M232,2015V2099M232,2015H274M232,2099H257M257,2054V2145M257,2054H425M257,2145H304M304,2093.5V2196M304,2093.5H382M304,2196H336.5M336.5,2146.5V2248.5M336.5,2146.5H571M336.5,2248.5H394.5M571,2133V2159.5M571,2133H587.5M571,2159.5H587.5M394.5,2198V2297M394.5,2198H462M394.5,2297H473.5M473.5,2258.75V2337.5M473.5,2258.75H565M473.5,2337.5H553.5M565,2238.5V2278M565,2238.5H690M565,2278H705M705,2265V2292M705,2265H706.5M705,2292H706.5M553.5,2317.5V2356.75M553.5,2317.5H657.5M553.5,2356.75H607M607,2344.25V2370.5M607,2344.25H651M607,2370.5H654.5" fill="none" stroke="#000" stroke-width="3.3" stroke-linecap="round" stroke-linejoin="round"/>
<path d="M178.00,1803.50 L320.82,1778.04 L778.60,1818.50 L178.00,1803.50" fill="#808080" stroke="#000" stroke-width="3.5999999999999996" stroke-linejoin="miter" stroke-linecap="butt" stroke-miterlimit="4"/>
<path d="M205.00,1856.00 L610.05,1834.01 L972.28,1881.94 L205.00,1856.00" fill="#75797b" stroke="#000" stroke-width="3.5999999999999996" stroke-linejoin="miter" stroke-linecap="butt" stroke-miterlimit="60"/>
<path d="M233.00,1908.50 L477.75,1882.96 L620.54,1934.00 L233.00,1908.50" fill="#75797b" stroke="#000" stroke-width="3.5999999999999996" stroke-linejoin="miter" stroke-linecap="butt" stroke-miterlimit="60"/>
<path d="M247.00,1961.50 L487.59,1936.34 L545.13,1987.03 L247.00,1961.50" fill="#75797b" stroke="#000" stroke-width="3.5999999999999996" stroke-linejoin="miter" stroke-linecap="butt" stroke-miterlimit="60"/>
<path d="M272.00,2015.00 L473.49,1989.56 L475.51,2039.98 L272.00,2015.00" fill="#75797b" stroke="#000" stroke-width="3.5999999999999996" stroke-linejoin="miter" stroke-linecap="butt" stroke-miterlimit="60"/>
<path d="M380.00,2093.50 L604.90,2078.08 L858.44,2105.47 L380.00,2093.50" fill="#7a7c68" stroke="#000" stroke-width="3.5999999999999996" stroke-linejoin="miter" stroke-linecap="butt" stroke-miterlimit="60"/>
<path d="M460.00,2198.00 L607.28,2173.18 L646.74,2224.06 L460.00,2198.00" fill="#7a7c68" stroke="#000" stroke-width="3.5999999999999996" stroke-linejoin="miter" stroke-linecap="butt" stroke-miterlimit="60"/>
<text transform="translate(111.7 1799) scale(1 1.03)" font-size="24.6" fill="#111">0.07</text>
<text transform="translate(174.7 1849) scale(1 1.03)" font-size="24.6" fill="#111">0.02</text>
<text transform="translate(111.7 1903.5) scale(1 1.03)" font-size="24.6" fill="#111">0.07</text>
<text transform="translate(189.7 1904) scale(1 1.03)" font-size="24.6" fill="#111">0.03</text>
<text transform="translate(205.2 1956.5) scale(1 1.03)" font-size="24.6" fill="#111">0.03</text>
<text transform="translate(145.2 1982) scale(1 1.03)" font-size="24.6" fill="#111">0.02</text>
<text transform="translate(227.2 2010) scale(1 1.03)" font-size="24.6" fill="#111">0.03</text>
<text transform="translate(159.2 2031.5) scale(1 1.03)" font-size="24.6" fill="#111">0.01</text>
<text transform="translate(316.7 2049.5) scale(1 1.03)" font-size="24.6" fill="#111">0.14</text>
<text transform="translate(178.2 2079) scale(1 1.03)" font-size="24.6" fill="#111">0.02</text>
<text transform="translate(317.7 2088.5) scale(1 1.03)" font-size="24.6" fill="#111">0.06</text>
<text transform="translate(204.7 2122.5) scale(1 1.03)" font-size="24.6" fill="#111">0.02</text>
<text transform="translate(228.7 2168.5) scale(1 1.03)" font-size="24.6" fill="#111">0.04</text>
<text transform="translate(436.7 2141) scale(1 1.03)" font-size="24.6" fill="#111">0.2</text>
<text transform="translate(556.2 2128) scale(1 1.03)" font-size="24.6" fill="#111">0.01</text>
<text transform="translate(576.7 2156) scale(1 1.03)" font-size="24.6" fill="#111">0.01</text>
<text transform="translate(286.7 2221) scale(1 1.03)" font-size="24.6" fill="#111">0.03</text>
<text transform="translate(403.2 2193) scale(1 1.03)" font-size="24.6" fill="#111">0.06</text>
<text transform="translate(341.7 2244) scale(1 1.03)" font-size="24.6" fill="#111">0.05</text>
<text transform="translate(496.2 2253) scale(1 1.03)" font-size="24.6" fill="#111">0.08</text>
<text transform="translate(608.7 2259) scale(1 1.03)" font-size="24.6" fill="#111">0.11</text>
<text transform="translate(701.2 2260) scale(1 1.03)" font-size="24.6" fill="#111">0</text>
<text transform="translate(706.7 2289.5) scale(1 1.03)" font-size="24.6" fill="#111">0</text>
<text transform="translate(409.7 2292.5) scale(1 1.03)" font-size="24.6" fill="#111">0.07</text>
<text transform="translate(631.2 2298.75) scale(1 1.03)" font-size="24.6" fill="#111">0.12</text>
<text transform="translate(574.2 2311) scale(1 1.03)" font-size="24.6" fill="#111">0.09</text>
<text transform="translate(489.7 2332) scale(1 1.03)" font-size="24.6" fill="#111">0.07</text>
<text transform="translate(604.95 2338.75) scale(1 1.03)" font-size="24.6" fill="#111">0.04</text>
<text transform="translate(614.2 2366) scale(1 1.03)" font-size="24.6" fill="#111">0.04</text>
<text transform="translate(552.2 2377.5) scale(1 1.03)" font-size="24.6" fill="#111">0.05</text>
<text transform="translate(983.2 1812.5) scale(1 1.03)" font-size="33.7" fill="#111">o Streptomycetales</text>
<text transform="translate(1073.2 1860) scale(1 1.03)" font-size="33.7" fill="#111">o S36-B12</text>
<text transform="translate(827.7 1920) scale(1 1.03)" font-size="33.7" fill="#111">f CAIYMF01</text>
<text transform="translate(1073.2 2099.5) scale(1 1.03)" font-size="33.7" fill="#111">f S36-B12</text>
<path d="M1070,1850.2L1033.4,1857.9" stroke="#333" stroke-width="3.4" fill="none"/>
<polygon points="1013.4,1862.1 1032.9,1845.7 1037.8,1869.2" fill="#333"/>
<path d="M1070.5,2091.4L1032.7,2099.3" stroke="#333" stroke-width="3.4" fill="none"/>
<polygon points="1012.7,2103.4 1032.2,2087.1 1037.1,2110.6" fill="#333"/>
<text transform="translate(745.7 2063.5) scale(1 1.03)" font-size="28.85" fill="#111">GB GCA 041393815.1</text>
<text transform="translate(1073.2 2064) scale(1 1.03)" font-size="28.85" fill="#111">JAWKJK01 sp041393815</text>
<text transform="translate(745.7 2143) scale(1 1.03)" font-size="28.85" fill="#111">GB GCA 903850745.1</text>
<text transform="translate(1073.2 2143.5) scale(1 1.03)" font-size="28.85" fill="#111">CAINMH01 sp903850745</text>
<text transform="translate(745.7 2169.5) scale(1 1.03)" font-size="28.85" fill="#111">GB GCA 009699315.1</text>
<text transform="translate(1073.2 2170) scale(1 1.03)" font-size="28.85" fill="#111">CAINMH01 sp009699315</text>
<text transform="translate(745.7 2207.5) scale(1 1.03)" font-size="28.85" fill="#111">g Mxb001</text>
<text transform="translate(745.7 2248.5) scale(1 1.03)" font-size="28.85" fill="#111">GB GCA 017857875.1</text>
<text transform="translate(1073.2 2249) scale(1 1.03)" font-size="28.85" fill="#111">M55B157 sp017857875</text>
<text transform="translate(745.7 2271.5) scale(1 1.03)" font-size="28.85" fill="#3a3a3a">Hduj_MAG3</text>
<text transform="translate(1073.2 2272.5) scale(1 1.03)" font-size="28.5" fill="#2e2e2e" font-weight="bold">Hduj_MAG3</text>
<text transform="translate(745.7 2301) scale(1 1.03)" font-size="28.85" fill="#111">GB GCA 018609125.1</text>
<text transform="translate(1073.2 2301.5) scale(1 1.03)" font-size="28.85" fill="#111">M55B157 sp018609125</text>
<text transform="translate(745.7 2327.5) scale(1 1.03)" font-size="28.85" fill="#111">GB GCA 040265115.1</text>
<text transform="translate(1073.2 2328.5) scale(1 1.03)" font-size="28.85" fill="#111">M55B157 sp040265115</text>
<text transform="translate(745.7 2353.5) scale(1 1.03)" font-size="28.85" fill="#111">GB GCA 913063435.1</text>
<text transform="translate(1073.2 2355) scale(1 1.03)" font-size="28.85" fill="#111">M55B157 sp913063435</text>
<text transform="translate(745.7 2380) scale(1 1.03)" font-size="28.85" fill="#111">GB GCA 018399515.1</text>
<text transform="translate(1073.2 2381) scale(1 1.03)" font-size="28.85" fill="#111">M55B157 sp018399515</text>
<rect x="1415.00" y="1896.00" width="29.00" height="26.50" fill="#c9127f"/>
<rect x="1415.00" y="1949.00" width="29.00" height="26.00" fill="#c9127f"/>
<rect x="1415.00" y="2001.50" width="29.00" height="26.00" fill="#c9127f"/>
<rect x="1415.00" y="2078.50" width="13.50" height="26.50" fill="#c9127f"/>
<rect x="1428.50" y="2078.50" width="12.50" height="26.50" fill="#94b5dc"/>
<rect x="1441.00" y="2078.50" width="1.50" height="26.50" fill="#5427d0"/>
<rect x="1442.50" y="2078.50" width="1.50" height="26.50" fill="#94b5dc"/>
<rect x="1415.00" y="2120.00" width="29.00" height="26.50" fill="#c9127f"/>
<rect x="1415.00" y="2146.50" width="29.00" height="26.50" fill="#c9127f"/>
<rect x="1415.00" y="2186.50" width="29.00" height="26.00" fill="#c9127f"/>
<rect x="1415.00" y="2225.00" width="29.00" height="26.50" fill="#94b5dc"/>
<rect x="1415.00" y="2251.50" width="29.00" height="26.00" fill="#e9a47b"/>
<rect x="1415.00" y="2277.50" width="29.00" height="26.50" fill="#94b5dc"/>
<rect x="1415.00" y="2330.00" width="29.00" height="27.50" fill="#94b5dc"/>
<rect x="1415.00" y="2357.50" width="29.00" height="26.50" fill="#5427d0"/>
<text x="1452.4" y="2271.5" font-size="29.05" fill="#000" font-style="italic">Halisarca dujardini</text>
<text transform="translate(1355.0 61) scale(1 1.03)" font-size="33.7" fill="#000" font-weight="bold">Isolation source</text>
<rect x="1355" y="76.5" width="40" height="40" fill="#e9a47b" stroke="#222" stroke-width="1.9"/>
<text transform="translate(1415.5 105) scale(1 1.03)" font-size="33.85" fill="#000">Marine sponge</text>
<rect x="1355" y="120.5" width="40" height="40" fill="#94b5dc" stroke="#222" stroke-width="1.9"/>
<text transform="translate(1415.5 152) scale(1 1.03)" font-size="33.85" fill="#000">Seawater</text>
<rect x="1355" y="164.5" width="40" height="40" fill="#dc0814" stroke="#222" stroke-width="1.9"/>
<text transform="translate(1415.5 193.5) scale(1 1.03)" font-size="33.85" fill="#000">Hydrotermal vent</text>
<rect x="1355" y="208.5" width="40" height="40" fill="#eedd55" stroke="#222" stroke-width="1.9"/>
<text transform="translate(1415.5 241) scale(1 1.03)" font-size="33.85" fill="#000">Marine biofilm</text>
<rect x="1355" y="252.5" width="40" height="40" fill="#9a9a9a" stroke="#222" stroke-width="1.9"/>
<text transform="translate(1415.5 283.7) scale(1 1.03)" font-size="33.85" fill="#000">Marine sediment</text>
<rect x="1355" y="296.5" width="40" height="40" fill="#5427d0" stroke="#222" stroke-width="1.9"/>
<text transform="translate(1415.5 327.7) scale(1 1.03)" font-size="33.85" fill="#000">Meromictic lake</text>
<rect x="1355" y="340.5" width="40" height="40" fill="#d49eb0" stroke="#222" stroke-width="1.9"/>
<text transform="translate(1415.5 371.4) scale(1 1.03)" font-size="33.85" fill="#000">Marine coral</text>
<rect x="1355" y="384.5" width="40" height="40" fill="#c9127f" stroke="#222" stroke-width="1.9"/>
<text transform="translate(1415.5 415.7) scale(1 1.03)" font-size="33.85" fill="#000">Freshwater</text>
<rect x="1355" y="428.5" width="40" height="40" fill="#d4a8ea" stroke="#222" stroke-width="1.9"/>
<text transform="translate(1415.5 459.4) scale(1 1.03)" font-size="33.85" fill="#000">Marine tunicate</text>
</svg>
</body></html>
